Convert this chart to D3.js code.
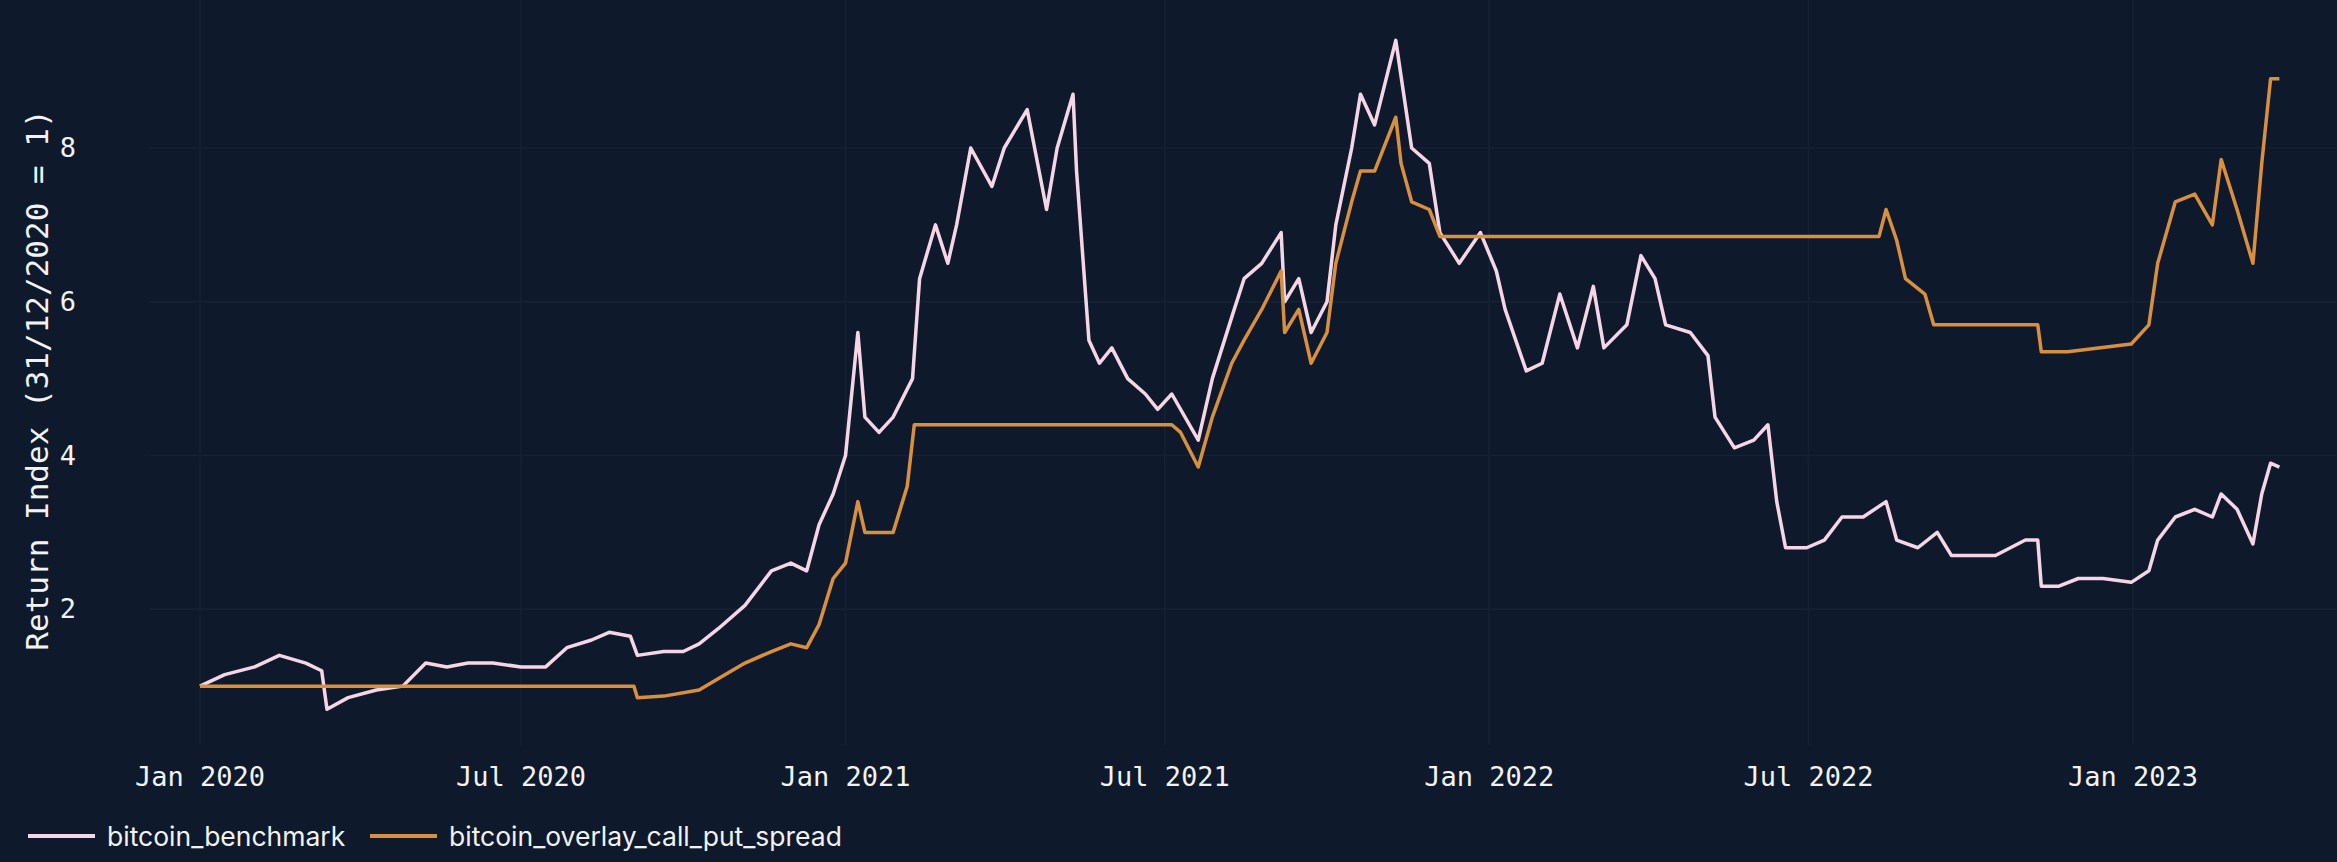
<!DOCTYPE html>
<html><head><meta charset="utf-8">
<script src="https://cdn.jsdelivr.net/npm/d3@7"></script>
<style>html,body{margin:0;background:#0e1a2b;}svg{display:block}</style>
</head><body>
<script>
const benchDates = ["2020-01-01","2020-01-15","2020-02-01","2020-02-15","2020-03-01","2020-03-10","2020-03-13","2020-03-25","2020-04-10","2020-04-25","2020-05-08","2020-05-20","2020-06-01","2020-06-15","2020-07-01","2020-07-15","2020-07-27","2020-08-10","2020-08-20","2020-09-01","2020-09-05","2020-09-20","2020-10-01","2020-10-10","2020-10-21","2020-11-05","2020-11-20","2020-12-01","2020-12-10","2020-12-17","2020-12-25","2021-01-01","2021-01-08","2021-01-12","2021-01-20","2021-01-28","2021-02-08","2021-02-12","2021-02-21","2021-02-28","2021-03-05","2021-03-13","2021-03-25","2021-04-01","2021-04-14","2021-04-25","2021-05-01","2021-05-10","2021-05-12","2021-05-19","2021-05-25","2021-06-01","2021-06-10","2021-06-20","2021-06-27","2021-07-05","2021-07-20","2021-07-28","2021-08-08","2021-08-15","2021-08-25","2021-09-05","2021-09-07","2021-09-15","2021-09-22","2021-10-01","2021-10-06","2021-10-15","2021-10-20","2021-10-28","2021-11-09","2021-11-18","2021-11-28","2021-12-04","2021-12-15","2021-12-27","2022-01-05","2022-01-10","2022-01-22","2022-01-31","2022-02-10","2022-02-20","2022-03-01","2022-03-07","2022-03-20","2022-03-28","2022-04-05","2022-04-11","2022-04-25","2022-05-05","2022-05-09","2022-05-20","2022-05-31","2022-06-08","2022-06-13","2022-06-18","2022-06-30","2022-07-10","2022-07-20","2022-08-01","2022-08-14","2022-08-20","2022-09-01","2022-09-12","2022-09-20","2022-10-01","2022-10-15","2022-11-01","2022-11-08","2022-11-10","2022-11-20","2022-12-01","2022-12-15","2022-12-31","2023-01-10","2023-01-15","2023-01-25","2023-02-05","2023-02-15","2023-02-20","2023-03-01","2023-03-10","2023-03-15","2023-03-20","2023-03-25"];
const benchValues = [1.0,1.15,1.25,1.4,1.3,1.2,0.7,0.85,0.95,1.0,1.3,1.25,1.3,1.3,1.25,1.25,1.5,1.6,1.7,1.65,1.4,1.45,1.45,1.55,1.75,2.05,2.5,2.6,2.5,3.1,3.5,4.0,5.6,4.5,4.3,4.5,5.0,6.3,7.0,6.5,7.0,8.0,7.5,8.0,8.5,7.2,8.0,8.7,7.7,5.5,5.2,5.4,5.0,4.8,4.6,4.8,4.2,5.0,5.8,6.3,6.5,6.9,6.0,6.3,5.6,6.0,7.0,8.0,8.7,8.3,9.4,8.0,7.8,6.9,6.5,6.9,6.4,5.9,5.1,5.2,6.1,5.4,6.2,5.4,5.7,6.6,6.3,5.7,5.6,5.3,4.5,4.1,4.2,4.4,3.4,2.8,2.8,2.9,3.2,3.2,3.4,2.9,2.8,3.0,2.7,2.7,2.7,2.9,2.9,2.3,2.3,2.4,2.4,2.35,2.5,2.9,3.2,3.3,3.2,3.5,3.3,2.85,3.5,3.9,3.85];
const overlayDates = ["2020-01-01","2020-09-03","2020-09-05","2020-09-20","2020-10-10","2020-10-21","2020-11-05","2020-11-20","2020-12-01","2020-12-10","2020-12-17","2020-12-25","2021-01-01","2021-01-08","2021-01-12","2021-01-28","2021-02-05","2021-02-09","2021-07-05","2021-07-10","2021-07-20","2021-07-28","2021-08-08","2021-08-15","2021-08-25","2021-09-05","2021-09-07","2021-09-15","2021-09-22","2021-10-01","2021-10-06","2021-10-15","2021-10-20","2021-10-28","2021-11-09","2021-11-12","2021-11-18","2021-11-28","2021-12-04","2022-08-10","2022-08-14","2022-08-20","2022-08-25","2022-09-05","2022-09-10","2022-11-08","2022-11-10","2022-11-25","2022-12-31","2023-01-10","2023-01-15","2023-01-25","2023-02-05","2023-02-15","2023-02-20","2023-03-01","2023-03-10","2023-03-15","2023-03-20","2023-03-25"];
const overlayValues = [1.0,1.0,0.85,0.87,0.95,1.1,1.3,1.45,1.55,1.5,1.8,2.4,2.6,3.4,3.0,3.0,3.6,4.4,4.4,4.3,3.85,4.5,5.2,5.5,5.9,6.4,5.6,5.9,5.2,5.6,6.5,7.3,7.7,7.7,8.4,7.8,7.3,7.2,6.85,6.85,7.2,6.8,6.3,6.1,5.7,5.7,5.35,5.35,5.45,5.7,6.5,7.3,7.4,7.0,7.85,7.2,6.5,7.8,8.9,8.9];
const yTicks = [2,4,6,8];
const xTickDates = ["2020-01-01","2020-07-01","2021-01-01","2021-07-01","2022-01-01","2022-07-01","2023-01-01"];
const xTickLabels = ["Jan 2020","Jul 2020","Jan 2021","Jul 2021","Jan 2022","Jul 2022","Jan 2023"];
const seriesNames = ["bitcoin_benchmark","bitcoin_overlay_call_put_spread"];
const colors = ["#f6d6e6","#d98f40"];

const W=2337,H=862, parse=d3.utcParse("%Y-%m-%d");
const svg=d3.select("body").append("svg").attr("width",W).attr("height",H);
svg.append("rect").attr("width",W).attr("height",H).attr("fill","#0e1a2b");
const x=d3.scaleUtc().domain([parse("2020-01-01"),parse("2023-01-01")]).range([200,2133]);
const y=d3.scaleLinear().domain([0,8]).range([763,148]);
const mono="'DejaVu Sans Mono','Liberation Mono',monospace";
const g=svg.append("g");
yTicks.forEach(t=>g.append("line").attr("x1",150).attr("x2",W).attr("y1",y(t)).attr("y2",y(t)).attr("stroke","#162232").attr("stroke-width",1.5));
xTickDates.forEach((d,i)=>{
  const xx=x(parse(d));
  g.append("line").attr("x1",xx).attr("x2",xx).attr("y1",0).attr("y2",745).attr("stroke","#162232").attr("stroke-width",1.5);
  svg.append("text").attr("x",xx).attr("y",786).attr("text-anchor","middle").attr("fill","#f2f2f2").attr("font-family",mono).attr("font-size",27).text(xTickLabels[i]);
});
yTicks.forEach(t=>svg.append("text").attr("x",76).attr("y",y(t)+9).attr("text-anchor","end").attr("fill","#f2f2f2").attr("font-family",mono).attr("font-size",27).text(t));
svg.append("text").attr("transform","translate(48,380) rotate(-90)").attr("text-anchor","middle").attr("fill","#f2f2f2").attr("font-family",mono).attr("font-size",31).text("Return Index (31/12/2020 = 1)");
const line=d3.line().x(d=>x(d[0])).y(d=>y(d[1]));
const bench=benchDates.map((d,i)=>[parse(d),benchValues[i]]);
const over=overlayDates.map((d,i)=>[parse(d),overlayValues[i]]);
svg.append("path").datum(bench).attr("d",line).attr("fill","none").attr("stroke",colors[0]).attr("stroke-width",3.5).attr("stroke-linejoin","round");
svg.append("path").datum(over).attr("d",line).attr("fill","none").attr("stroke",colors[1]).attr("stroke-width",3.5).attr("stroke-linejoin","round");
const lx=[28,370];
seriesNames.forEach((n,i)=>{
  svg.append("line").attr("x1",lx[i]).attr("x2",lx[i]+67).attr("y1",836).attr("y2",836).attr("stroke",colors[i]).attr("stroke-width",4);
  svg.append("text").attr("x",lx[i]+79).attr("y",846).attr("fill","#f2f2f2").attr("font-family","Inter,'Noto Sans',sans-serif").attr("font-size",26.5).text(n);
});
</script>
</body></html>
